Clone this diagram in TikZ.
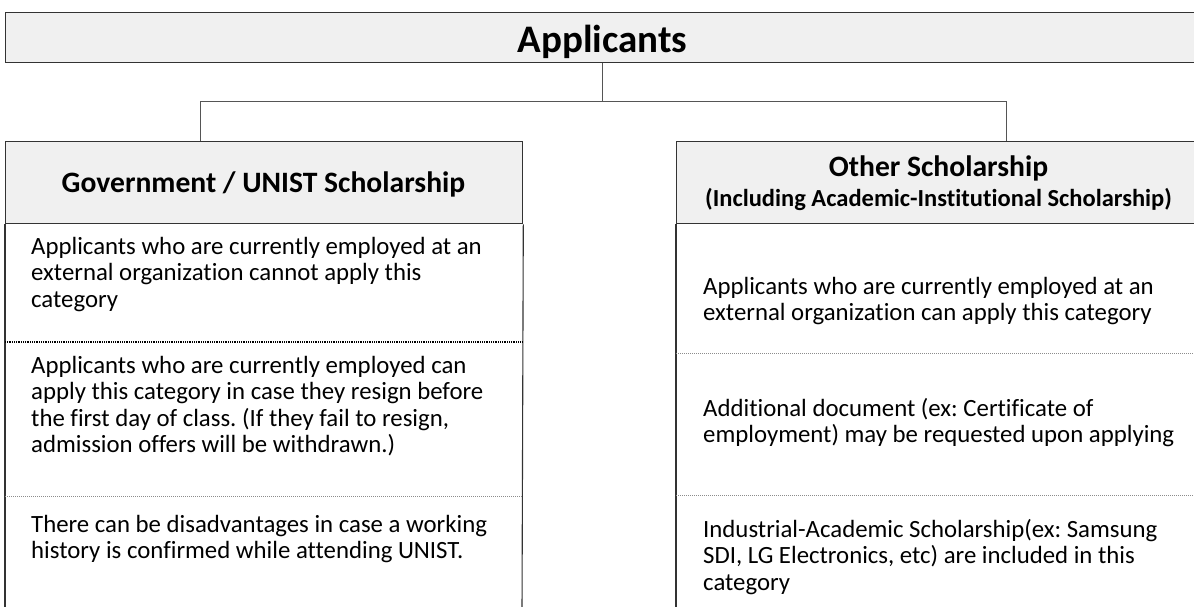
\documentclass[tikz,border=0pt]{standalone}
\usepackage{fontspec}
\setmainfont[Ligatures={NoCommon}]{Carlito}
\frenchspacing
\definecolor{boxfill}{HTML}{F0F0F0}
\definecolor{edgecol}{HTML}{333333}
\definecolor{conncol}{HTML}{555555}
\definecolor{dotcol}{HTML}{8C8C8C}
\tikzset{
  hdrbox/.style={draw=edgecol, fill=boxfill, line width=1.3pt, inner sep=0pt, anchor=north west},
  sideline/.style={draw=edgecol, line width=1.1pt},
  conn/.style={draw=conncol, line width=0.9pt},
  dotsep/.style={draw=dotcol, line width=0.8pt, dash pattern=on 0.8pt off 1.2pt},
  dotsepdark/.style={draw=black, line width=1.1pt, dash pattern=on 1pt off 0.8pt},
  titletext/.style={font=\fontsize{39}{42}\selectfont\bfseries, anchor=base, inner sep=0pt},
  headtext/.style={font=\fontsize{29.6}{32}\selectfont\bfseries, anchor=base, inner sep=0pt},
  subtext/.style={font=\fontsize{24.5}{26}\selectfont\bfseries, anchor=base, inner sep=0pt},
  bodytext/.style={font=\fontsize{24.8}{26.4}\selectfont, align=left, anchor=north west, inner sep=0pt}
}
\begin{document}
\begin{tikzpicture}[x=1pt,y=-1pt]
\useasboundingbox (0,0) rectangle (1194,607);
% title box
\node[hdrbox, minimum width=1200, minimum height=50] (app) at (5,12) {};
\node[titletext] (appT) at (602.5,53) {Applicants};
% header boxes
\node[hdrbox, minimum width=517, minimum height=82] (gov) at (5,141) {};
\node[hdrbox, minimum width=530, minimum height=82] (oth) at (676,141) {};
\node[headtext] (govT) at (263.5,192) {Government / UNIST Scholarship};
\node[headtext] (othT) at (938.5,176) {Other Scholarship};
\node[subtext] (othS) at (938.5,206) {(Including Academic-Institutional Scholarship)};
% connectors
\coordinate (bus) at (0,101);
\coordinate (jL) at (200,141);
\coordinate (jR) at (1006,141);
\draw[conn] (app.south -| appT) -- (appT |- bus);
\draw[conn] (jL) -- (jL |- bus) -- (jR |- bus) -- (jR);
% body side lines
\coordinate (gEndL) at (5,612);
\coordinate (gEndR) at (522,612);
\coordinate (oEndL) at (676,612);
\draw[sideline] (gov.south west) -- (gEndL);
\draw[sideline] (gov.south east) -- (gEndR);
\draw[sideline] (oth.south west) -- (oEndL);
% dotted separators
\draw[dotsepdark] (5,342) -- (522,342);
\draw[dotsep] (5,496) -- (522,496);
\draw[dotsep] (676,353) -- (1200,353);
\draw[dotsep] (676,495) -- (1200,495);
% left body text
\node[bodytext] (g1) at (31,237) {Applicants who are currently employed at an\\external organization cannot apply this\\category};
\node[bodytext] (g2) at (31,356) {Applicants who are currently employed can\\apply this category in case they resign before\\the first day of class. (If they fail to resign,\\admission offers will be withdrawn.)};
\node[bodytext] (g3) at (31,515) {There can be disadvantages in case a working\\history is confirmed while attending UNIST.};
% right body text
\node[bodytext] (o1) at (703,277) {Applicants who are currently employed at an\\external organization can apply this category};
\node[bodytext] (o2) at (703,398) {Additional document (ex: Certificate of\\employment) may be requested upon applying};
\node[bodytext] (o3) at (703,519) {Industrial-Academic Scholarship(ex: Samsung\\SDI, LG Electronics, etc) are included in this\\category};
\end{tikzpicture}
\end{document}
